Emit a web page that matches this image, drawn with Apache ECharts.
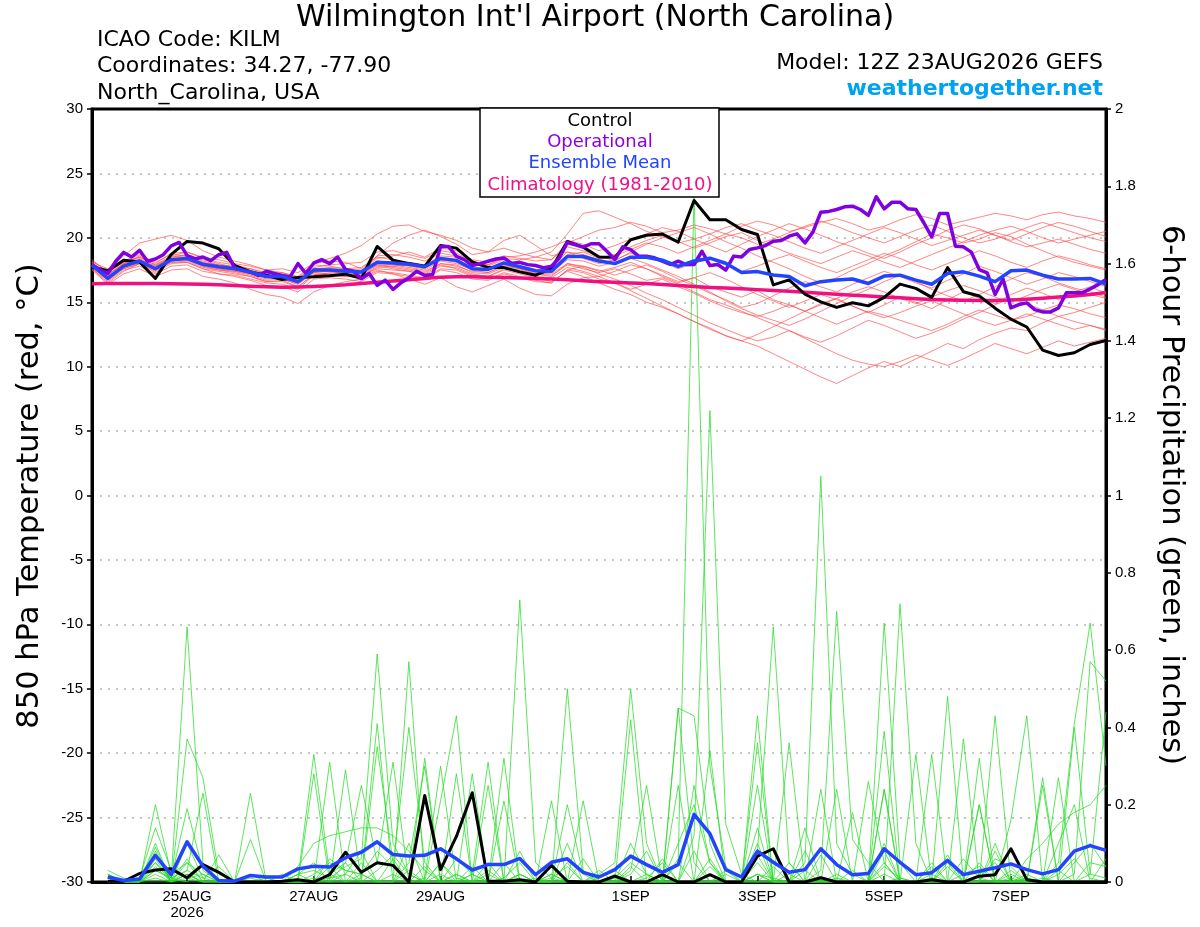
<!DOCTYPE html>
<html>
<head>
<meta charset="utf-8">
<script src="https://cdn.jsdelivr.net/npm/echarts@6/dist/echarts.min.js"></script>
<style>
html,body{margin:0;padding:0;background:#fff;}
#chart{width:1200px;height:927px;}
</style>
</head>
<body>
<div id="chart"></div>
<script>
// ---------- DATA ----------
// x positions: hours after 12Z 23AUG2026
const tickHours  = [36, 84, 132, 204, 252, 300, 348];
const tickLabels = ['25AUG\n2026', '27AUG', '29AUG', '1SEP', '3SEP', '5SEP', '7SEP'];

// 850 hPa temperature, 6-hourly (65 values, 0h..384h)
const controlTemp = [17.74,17.44,18.26,18.13,16.85,18.72,19.72,19.59,19.15,17.87,17.36,17.1,16.77,16.92,16.97,17.05,17.18,
  16.85,19.33,18.26,18.0,17.79,19.41,19.2,18.13,17.69,17.69,17.36,17.1,17.62,19.72,19.28,18.51,
  18.5,19.85,20.2,20.3,19.67,22.9,21.4,21.4,20.65,20.26,16.35,16.74,15.62,15.03,14.6,14.96,
  14.72,15.38,16.41,16.08,15.38,17.69,15.82,15.49,14.54,13.69,13.08,11.28,10.87,11.08,11.72,12.03];
const meanTemp = [17.87,16.85,17.8,18.2,17.6,18.3,18.4,17.95,17.75,17.6,17.35,17.0,17.0,16.6,17.5,17.5,17.4,
  17.35,18.1,18.05,17.95,17.75,18.4,18.25,17.6,17.55,18.05,17.75,17.45,17.4,18.55,18.55,18.2,
  18.0,18.5,18.5,18.26,17.78,18.2,18.42,18.03,17.3,17.38,17.12,17.0,16.28,16.6,16.72,16.8,
  16.46,17.03,17.1,16.72,16.4,17.23,17.36,17.03,16.6,17.44,17.5,17.1,16.8,16.8,16.85,16.4];
const climTemp = [16.44,16.45,16.46,16.46,16.45,16.44,16.42,16.39,16.35,16.30,16.25,16.20,16.16,16.18,16.22,16.28,16.35,
  16.45,16.55,16.65,16.75,16.85,16.95,16.97,16.97,16.95,16.92,16.88,16.85,16.80,16.74,16.67,16.60,
  16.55,16.50,16.45,16.38,16.30,16.22,16.15,16.10,16.04,15.98,15.92,15.85,15.78,15.70,15.62,15.55,
  15.48,15.41,15.34,15.27,15.22,15.18,15.15,15.13,15.14,15.18,15.24,15.31,15.40,15.49,15.60,15.75];

// operational run, 3-hourly (129 values, 0h..384h)
const operational3h = [17.92,17.54,17.23,18.18,18.87,18.51,19.03,18.18,18.36,18.69,19.38,19.64,18.62,18.36,18.51,18.23,18.69,18.87,17.67,17.49,17.33,17.08,17.41,17.23,17.08,16.97,18.0,17.23,18.05,18.31,18.0,18.51,17.54,
  17.41,16.82,17.23,16.31,16.72,16.0,16.51,16.9,17.41,17.08,17.15,19.33,19.33,18.56,18.31,17.85,18.0,18.18,18.36,18.44,18.0,18.1,17.92,17.85,17.67,17.79,18.44,19.64,19.46,19.28,19.54,19.54,
  18.96,18.32,19.3,19.09,18.58,18.58,18.45,18.19,17.93,18.19,17.93,17.93,18.96,17.85,17.93,17.49,18.58,18.52,19.09,19.22,19.4,19.74,19.79,20.13,20.31,19.61,20.44,21.99,22.05,22.2,22.41,22.46,
  22.2,21.74,23.19,22.25,22.77,22.77,22.25,22.2,21.17,20.08,21.89,21.89,19.35,19.3,18.89,17.54,17.28,15.6,16.81,14.56,14.82,14.95,14.43,14.25,14.25,14.56,15.73,15.73,15.73,16.04,16.37,16.76];

// ensemble member temperatures (6-hourly, 65 values)
const tMem01 = [17.8,17.2,18.0,18.6,18.0,18.8,18.9,18.4,18.1,17.9,17.6,17.2,17.3,16.9,17.9,17.8,17.6, 17.5,18.4,18.6,18.9,18.5,19.2,19.0,18.3,18.1,18.6,18.4,18.2,18.3,19.6,20.1,20.6, 20.8,21.2,20.9,20.4,20.6,21.0,20.7,20.3,20.9,21.3,21.0,20.5,20.8,21.2,21.5,21.1, 20.6,20.9,21.4,21.8,21.5,21.0,21.3,21.6,21.9,21.7,21.4,21.8,22.0,21.7,21.5,21.2];
const tMem02 = [18.1,17.0,17.6,18.0,17.3,18.0,18.1,17.6,17.2,17.1,16.8,16.5,16.4,16.0,17.1,17.2,17.0, 17.0,17.8,17.6,17.4,17.2,17.9,17.6,17.1,17.0,17.5,17.2,16.9,16.6,17.4,17.0,16.5, 16.0,15.6,15.0,14.6,14.1,13.5,13.0,12.4,12.0,11.6,11.0,10.4,9.8,9.2,8.7,9.3, 9.9,10.4,10.0,10.6,11.2,11.8,11.4,12.1,12.6,13.0,12.8,13.4,13.9,14.2,14.6,15.0];
const tMem03 = [17.6,16.5,17.4,18.0,17.5,18.1,18.2,17.7,17.5,17.3,17.0,16.6,16.7,16.2,17.2,17.1,17.0, 16.9,17.5,17.2,16.8,16.4,16.9,16.2,15.8,16.3,16.8,16.1,15.6,15.5,16.4,16.9,17.0, 17.4,17.9,17.6,17.0,16.5,16.9,16.2,15.8,15.4,15.9,15.2,14.8,14.3,14.9,15.3,14.7, 14.2,14.8,15.4,15.0,14.5,15.2,15.8,15.3,14.9,15.6,16.1,15.7,15.2,15.8,16.2,15.7];
const tMem04 = [18.2,17.4,18.1,18.5,17.9,18.6,18.9,18.5,18.3,18.0,17.8,17.5,17.3,17.0,18.0,18.4,18.8, 19.4,20.3,20.9,21.0,20.5,20.2,19.8,19.2,18.9,19.2,18.8,18.5,18.3,19.3,19.0,18.6, 18.2,18.9,19.5,20.0,20.4,20.8,20.3,19.7,19.2,18.6,18.1,17.6,17.0,16.5,16.9,17.5, 18.0,18.6,19.1,19.7,20.3,20.0,19.6,19.9,20.4,20.1,19.5,19.0,18.5,18.1,17.8,17.5];
const tMem05 = [17.5,16.4,17.2,17.6,17.0,17.5,17.6,17.0,16.8,16.5,16.0,15.6,15.4,14.9,15.8,16.3,16.6, 16.8,17.4,17.3,17.1,16.9,17.6,17.5,17.0,16.8,17.3,17.0,16.7,16.5,17.5,17.8,17.5, 17.1,17.5,17.9,17.4,16.8,16.3,15.7,15.2,14.6,14.9,15.5,16.1,16.6,16.2,15.8,16.4, 16.9,17.4,17.0,16.5,16.1,16.7,17.2,17.8,17.4,16.9,16.4,16.8,17.3,17.0,16.6,16.2];
const tMem06 = [18.3,17.3,18.2,18.7,18.1,18.7,18.6,18.1,17.9,17.8,17.5,17.1,17.2,16.9,17.6,17.7,17.6, 17.7,18.5,18.3,18.1,17.9,18.6,18.5,18.0,17.9,18.4,18.3,18.5,18.9,20.3,21.9,22.1, 21.6,21.1,20.5,20.1,19.6,19.9,20.3,20.8,21.1,20.6,20.2,19.7,19.2,18.8,19.3,19.8, 20.3,20.8,20.4,19.9,19.4,19.8,20.2,20.6,20.2,19.7,19.3,19.6,19.9,19.5,19.1,18.8];
const tMem07 = [17.9,17.1,18.0,18.3,17.7,18.4,18.5,18.0,17.8,17.6,17.3,17.0,17.1,16.7,17.4,17.5,17.3, 17.3,18.0,17.9,17.7,17.5,18.2,18.0,17.5,17.3,17.9,17.6,17.3,17.2,18.0,17.7,17.2, 16.8,16.3,15.7,15.2,14.6,14.0,13.4,12.9,12.4,12.0,12.3,12.8,12.3,11.9,12.4,13.0, 13.6,13.2,12.7,12.2,12.6,13.1,13.7,14.2,14.8,15.3,14.9,14.4,13.9,13.5,13.2,12.9];
const tMem08 = [17.7,16.8,17.7,18.1,17.5,18.2,18.3,17.8,17.6,17.4,17.2,16.9,16.8,16.4,17.3,17.2,17.1, 17.0,17.7,17.8,17.9,17.7,18.3,18.1,17.6,17.5,18.0,17.7,17.5,17.6,18.7,18.9,18.4, 18.7,19.3,19.8,20.2,19.7,19.2,19.6,20.1,20.4,19.8,19.3,18.8,18.4,18.0,18.5,19.0, 18.6,18.1,17.7,18.2,18.7,19.2,19.7,20.2,20.6,20.9,20.5,20.0,19.6,19.9,20.2,20.5];
const tMem09 = [18.0,17.0,17.9,18.3,17.8,18.4,18.3,17.9,17.7,17.5,17.3,17.0,16.9,16.5,17.5,17.6,17.5, 17.4,18.2,18.0,17.8,17.6,18.4,18.2,17.6,17.5,18.0,17.8,17.4,17.3,18.3,18.2,17.8, 18.1,18.4,18.0,17.5,17.0,16.4,15.8,15.1,14.5,14.0,13.6,13.2,13.7,14.3,14.9,15.5, 16.0,16.6,17.1,16.6,16.0,15.5,15.1,15.6,16.2,16.8,17.3,17.0,16.5,16.1,15.8,15.4];
const tMem10 = [17.8,16.9,17.8,18.2,17.6,18.2,18.4,17.9,17.6,17.5,17.2,16.8,16.9,16.5,17.3,17.4,17.3, 17.2,17.9,17.8,17.6,17.4,18.0,17.8,17.4,17.3,17.8,17.6,17.2,17.1,17.9,17.6,17.3, 17.6,17.2,16.7,16.9,16.4,15.8,15.2,14.8,14.3,13.8,13.3,12.8,12.2,11.6,11.0,10.5, 10.2,10.0,10.4,10.9,10.5,10.1,10.6,11.2,11.8,11.4,11.0,11.5,12.0,11.6,11.9,12.2];
const tMem11 = [17.9,17.1,18.0,18.4,17.8,18.5,18.7,18.3,18.0,17.7,17.6,17.3,17.1,16.8,17.7,17.9,18.0, 18.1,18.9,19.0,18.7,18.4,19.0,18.8,18.2,17.9,18.5,18.6,18.9,19.3,19.8,19.5,19.0, 19.4,19.9,20.3,20.8,20.5,19.9,19.4,18.9,19.5,20.1,20.6,21.1,20.7,20.2,19.7,19.3, 18.8,18.4,18.9,19.5,20.0,20.6,21.0,20.7,20.2,19.8,20.3,20.8,21.2,20.9,20.5,20.1];
const tMem12 = [17.6,16.6,17.5,17.8,17.2,17.8,17.9,17.4,17.2,17.0,16.7,16.3,16.2,15.8,16.8,16.9,16.8, 16.6,17.3,17.2,17.0,16.8,17.5,17.3,16.8,16.7,17.2,16.9,16.6,16.5,17.5,17.3,16.8, 16.5,16.0,16.4,16.8,16.2,15.7,15.1,14.6,14.2,13.9,14.3,14.8,14.3,13.8,13.3,13.8, 14.3,14.0,13.6,13.2,12.8,13.3,13.9,14.4,14.0,13.6,13.9,14.4,14.8,14.5,14.1,13.8];
const tMem13 = [18.0,17.3,18.1,18.5,17.9,18.5,18.6,18.2,17.9,17.7,17.4,17.1,17.0,16.6,17.6,17.6,17.5, 17.4,18.6,19.6,20.2,20.6,20.1,19.5,18.7,18.9,19.8,20.2,19.4,18.6,18.9,18.4,18.0, 18.3,18.8,18.5,18.1,17.6,18.0,18.4,17.9,17.4,17.8,18.3,18.7,18.2,17.7,17.3,17.8, 18.3,18.8,18.4,17.9,17.5,18.0,18.5,19.0,18.6,18.1,17.7,18.2,18.6,18.3,17.9,17.6];
const tMem14 = [17.7,16.7,17.6,18.0,17.4,18.1,18.1,17.6,17.4,17.2,17.0,16.6,16.6,16.2,17.1,17.3,17.2, 17.1,17.6,17.5,17.4,17.1,17.8,17.7,17.2,17.0,17.6,17.4,17.0,16.9,17.7,17.4,17.0, 16.5,15.9,15.3,14.7,14.1,13.5,12.9,12.4,12.0,12.5,13.1,13.7,14.3,14.8,15.3,15.8, 16.2,15.8,15.3,14.9,15.4,15.9,16.3,15.9,15.4,15.0,15.5,16.0,16.4,16.0,15.6,15.3];
const tMem15 = [18.1,17.6,18.6,19.6,19.9,20.2,19.8,19.0,18.5,18.2,17.9,17.5,17.6,17.3,18.0,18.2,18.1, 17.6,18.6,18.7,18.5,18.2,18.8,18.6,18.0,17.8,18.3,18.0,17.8,17.8,18.9,18.7,18.3, 18.6,19.1,19.6,19.3,18.8,19.3,19.8,20.3,20.0,19.5,19.9,20.4,20.9,21.3,20.9,20.4, 20.0,19.6,20.1,20.6,21.0,20.5,20.0,19.6,19.9,20.3,20.8,21.2,20.8,20.4,20.0,19.7];
const tMem16 = [17.8,17.0,17.9,18.2,17.6,18.3,18.3,17.8,17.5,17.4,17.1,16.7,16.8,16.4,17.4,17.4,17.2, 17.1,17.9,17.7,17.5,17.3,18.0,17.9,17.3,17.2,17.7,17.5,17.2,17.0,18.0,17.8,17.4, 17.7,18.1,17.6,17.1,16.6,16.9,17.3,16.8,16.2,15.6,15.1,14.6,15.1,15.6,15.2,14.7, 14.2,13.8,14.2,14.7,15.1,14.6,14.1,13.6,13.2,13.6,14.1,13.7,13.3,12.9,13.2,12.8];

// 6-hour precipitation (inches), 64 values, 6h..384h
const controlPrecip = [0.002,0.002,0.022,0.031,0.034,0.011,0.045,0.025,0,0,0,0.002,0.006,0,0.019,0.077,
  0.025,0.05,0.043,0,0.224,0.032,0.118,0.231,0.002,0.002,0.006,0,0.043,0.002,0,0,
  0.015,0,0,0.019,0,0,0.019,0,0,0.067,0.086,0,0,0.011,0,0,
  0,0,0,0,0.006,0,0,0.015,0.019,0.086,0.006,0,0,0,0,0];
const meanPrecip = [0.013,0.004,0.008,0.069,0.019,0.104,0.041,0.004,0.002,0.017,0.013,0.013,0.034,0.041,0.039,0.063,
  0.077,0.104,0.071,0.067,0.069,0.086,0.060,0.031,0.045,0.045,0.061,0.019,0.051,0.060,0.025,0.013,
  0.032,0.067,0.045,0.025,0.045,0.175,0.125,0.032,0.013,0.080,0.051,0.025,0.032,0.086,0.045,0.019,
  0.022,0.086,0.051,0.019,0.024,0.056,0.019,0.028,0.037,0.047,0.032,0.021,0.032,0.080,0.094,0.082];

const pMem01 = [0.02,0.00,0.01,0.05,0.01,0.19,0.03,0.00,0.00,0.01,0.00,0.00,0.02,0.03,0.01,0.04, 0.06,0.59,0.10,0.02,0.00,0.05,0.01,0.00,0.03,0.00,0.02,0.00,0.01,0.04,0.00,0.00, 0.01,0.05,0.02,0.00,0.06,1.78,0.30,0.04,0.00,0.02,0.01,0.00,0.03,0.00,0.01,0.00, 0.00,0.04,0.01,0.00,0.02,0.00,0.06,0.01,0.00,0.03,0.00,0.01,0.00,0.05,0.10,0.04];
const pMem02 = [0.01,0.00,0.00,0.10,0.00,0.37,0.27,0.02,0.00,0.00,0.01,0.00,0.00,0.02,0.05,0.03, 0.02,0.08,0.04,0.40,0.05,0.00,0.02,0.00,0.00,0.01,0.05,0.00,0.00,0.20,0.02,0.00, 0.00,0.02,0.08,0.00,0.00,0.12,1.22,0.15,0.02,0.00,0.04,0.00,0.00,0.01,0.00,0.03, 0.00,0.08,0.00,0.00,0.01,0.00,0.00,0.02,0.05,0.00,0.01,0.00,0.02,0.06,0.01,0.00];
const pMem03 = [0.00,0.00,0.02,0.07,0.01,0.66,0.05,0.00,0.00,0.00,0.00,0.00,0.00,0.01,0.00,0.05, 0.25,0.05,0.31,0.00,0.01,0.30,0.00,0.02,0.00,0.00,0.73,0.05,0.01,0.00,0.00,0.01, 0.03,0.00,0.01,0.05,0.00,0.00,0.00,0.03,0.00,0.05,0.00,0.00,0.05,1.05,0.10,0.02, 0.00,0.00,0.01,0.00,0.00,0.04,0.00,0.00,0.00,0.01,0.00,0.00,0.03,0.00,0.02,0.01];
const pMem04 = [0.03,0.01,0.00,0.20,0.02,0.05,0.00,0.07,0.00,0.00,0.00,0.00,0.01,0.33,0.02,0.00, 0.01,0.41,0.00,0.05,0.30,0.00,0.00,0.02,0.31,0.00,0.00,0.01,0.00,0.50,0.03,0.00, 0.00,0.10,0.02,0.00,0.00,0.25,0.05,0.00,0.00,0.08,0.66,0.05,0.00,0.00,0.02,0.00, 0.00,0.24,0.00,0.00,0.05,0.00,0.00,0.00,0.10,0.00,0.00,0.00,0.05,0.41,0.67,0.30];
const pMem05 = [0.00,0.00,0.01,0.14,0.03,0.01,0.02,0.00,0.00,0.23,0.00,0.00,0.00,0.00,0.01,0.02, 0.00,0.35,0.05,0.00,0.00,0.21,0.43,0.00,0.00,0.05,0.00,0.00,0.21,0.00,0.00,0.02, 0.05,0.50,0.10,0.00,0.45,0.05,0.00,0.00,0.00,0.02,0.00,0.00,0.00,0.03,0.70,0.11, 0.05,0.00,0.72,0.10,0.00,0.00,0.00,0.05,0.00,0.00,0.01,0.00,0.00,0.02,0.57,0.52];
const pMem06 = [0.02,0.00,0.00,0.06,0.00,0.02,0.00,0.00,0.00,0.11,0.00,0.00,0.00,0.28,0.00,0.00, 0.00,0.00,0.00,0.57,0.00,0.00,0.00,0.00,0.25,0.00,0.02,0.00,0.00,0.00,0.00,0.00, 0.00,0.42,0.00,0.00,0.00,0.00,0.34,0.00,0.00,0.43,0.00,0.00,0.00,0.00,0.00,0.00, 0.00,0.67,0.05,0.00,0.00,0.48,0.00,0.00,0.43,0.00,0.00,0.00,0.00,0.40,0.02,0.44];
const pMem07 = [0.01,0.00,0.00,0.03,0.01,0.03,0.01,0.00,0.00,0.00,0.00,0.00,0.04,0.10,0.12,0.13, 0.14,0.14,0.12,0.08,0.03,0.00,0.00,0.28,0.00,0.32,0.00,0.00,0.00,0.00,0.00,0.00, 0.00,0.03,0.25,0.00,0.45,0.43,0.10,0.00,0.00,0.36,0.00,0.36,0.00,0.00,0.00,0.00, 0.26,0.05,0.00,0.00,0.33,0.00,0.37,0.00,0.00,0.16,0.43,0.00,0.00,0.00,0.00,0.00];
const pMem08 = [0.00,0.00,0.00,0.09,0.00,0.10,0.01,0.04,0.00,0.00,0.00,0.00,0.00,0.00,0.31,0.00, 0.00,0.00,0.00,0.00,0.32,0.00,0.00,0.00,0.00,0.21,0.00,0.00,0.00,0.00,0.21,0.00, 0.00,0.00,0.00,0.00,0.00,0.00,0.00,0.00,0.00,0.25,0.00,0.00,0.14,0.00,0.24,0.00, 0.00,0.39,0.00,0.00,0.00,0.00,0.00,0.32,0.00,0.00,0.00,0.25,0.00,0.00,0.00,0.00];
const pMem09 = [0.01,0.00,0.00,0.05,0.00,0.05,0.02,0.00,0.00,0.00,0.00,0.00,0.00,0.00,0.00,0.29, 0.00,0.00,0.00,0.00,0.00,0.00,0.28,0.00,0.00,0.00,0.00,0.00,0.00,0.00,0.00,0.00, 0.00,0.00,0.00,0.00,0.00,0.00,0.00,0.00,0.00,0.00,0.00,0.00,0.00,0.00,0.00,0.18, 0.00,0.00,0.00,0.33,0.00,0.00,0.00,0.20,0.00,0.00,0.00,0.27,0.00,0.00,0.00,0.00];
const pMem10 = [0.00,0.00,0.00,0.04,0.00,0.03,0.23,0.00,0.00,0.00,0.00,0.00,0.02,0.05,0.00,0.00, 0.02,0.00,0.06,0.00,0.00,0.00,0.02,0.00,0.00,0.00,0.08,0.00,0.00,0.10,0.00,0.00, 0.02,0.00,0.00,0.00,0.25,0.00,0.00,0.00,0.00,0.14,0.00,0.00,0.00,0.24,0.00,0.00, 0.00,0.24,0.00,0.00,0.00,0.00,0.00,0.20,0.00,0.00,0.00,0.00,0.27,0.00,0.00,0.00];
const pMem11 = [0.02,0.00,0.00,0.08,0.00,0.02,0.00,0.00,0.00,0.00,0.00,0.00,0.02,0.00,0.02,0.05, 0.00,0.03,0.07,0.02,0.00,0.05,0.00,0.00,0.02,0.00,0.00,0.00,0.00,0.05,0.00,0.00, 0.00,0.04,0.00,0.00,0.00,0.00,0.06,0.00,0.00,0.10,0.00,0.02,0.00,0.07,0.00,0.00, 0.00,0.05,0.00,0.00,0.00,0.07,0.00,0.00,0.00,0.02,0.00,0.00,0.00,0.00,0.05,0.04];
const pMem12 = [0.00,0.00,0.01,0.07,0.00,0.01,0.00,0.00,0.00,0.02,0.00,0.00,0.00,0.00,0.04,0.00, 0.05,0.00,0.00,0.10,0.00,0.00,0.06,0.02,0.00,0.00,0.00,0.00,0.02,0.00,0.00,0.00, 0.00,0.00,0.02,0.00,0.05,0.00,0.00,0.00,0.00,0.07,0.00,0.05,0.00,0.00,0.00,0.00, 0.00,0.00,0.00,0.00,0.04,0.00,0.00,0.00,0.08,0.00,0.00,0.00,0.10,0.20,0.00,0.00];
const pMem13 = [0.01,0.00,0.00,0.02,0.00,0.06,0.00,0.00,0.00,0.00,0.00,0.02,0.00,0.00,0.00,0.00, 0.00,0.00,0.02,0.00,0.04,0.00,0.00,0.00,0.00,0.00,0.02,0.00,0.00,0.00,0.00,0.00, 0.00,0.00,0.00,0.00,0.00,0.08,0.00,0.02,0.00,0.00,0.00,0.00,0.00,0.00,0.00,0.00, 0.00,0.00,0.00,0.00,0.00,0.00,0.02,0.04,0.00,0.00,0.06,0.10,0.15,0.18,0.20,0.25];
const pMem14 = [0.00,0.00,0.00,0.03,0.01,0.00,0.05,0.00,0.00,0.00,0.00,0.00,0.00,0.00,0.00,0.02, 0.08,0.00,0.00,0.00,0.00,0.00,0.00,0.00,0.05,0.00,0.00,0.00,0.02,0.00,0.00,0.00, 0.00,0.00,0.00,0.00,0.10,0.20,0.05,0.00,0.00,0.02,0.00,0.00,0.08,0.00,0.00,0.00, 0.00,0.10,0.00,0.00,0.00,0.00,0.00,0.00,0.06,0.04,0.00,0.00,0.00,0.00,0.00,0.06];
const pMem15 = [0.00,0.00,0.00,0.01,0.00,0.02,0.00,0.00,0.00,0.00,0.00,0.00,0.00,0.00,0.00,0.00, 0.00,0.00,0.00,0.00,0.00,0.00,0.00,0.04,0.00,0.00,0.00,0.00,0.00,0.00,0.06,0.00, 0.00,0.00,0.00,0.06,0.00,0.00,0.00,0.00,0.00,0.00,0.00,0.00,0.00,0.00,0.00,0.00, 0.00,0.02,0.00,0.00,0.00,0.00,0.00,0.00,0.00,0.00,0.00,0.00,0.00,0.00,0.00,0.00];
const pMem16 = [0.01,0.00,0.00,0.00,0.00,0.00,0.00,0.00,0.00,0.00,0.00,0.00,0.00,0.00,0.06,0.03, 0.02,0.00,0.00,0.03,0.00,0.02,0.00,0.00,0.00,0.00,0.00,0.00,0.00,0.00,0.00,0.03, 0.00,0.00,0.00,0.00,0.00,0.00,0.04,0.00,0.00,0.00,0.00,0.00,0.00,0.00,0.00,0.00, 0.00,0.00,0.00,0.00,0.00,0.05,0.00,0.00,0.00,0.00,0.02,0.00,0.00,0.00,0.00,0.00];

// ---------- BUILD ----------
const FONT = '"Liberation Sans", Arial, Helvetica, sans-serif';
const HFONT = '"DejaVu Sans", Verdana, sans-serif';
const tempMembers = [tMem01,tMem02,tMem03,tMem04,tMem05,tMem06,tMem07,tMem08,tMem09,tMem10,tMem11,tMem12,tMem13,tMem14,tMem15,tMem16];
const precipMembers = [pMem01,pMem02,pMem03,pMem04,pMem05,pMem06,pMem07,pMem08,pMem09,pMem10,pMem11,pMem12,pMem13,pMem14,pMem15,pMem16];

const at6 = arr => arr.map((v, i) => [i * 6, v]);
const at6p = arr => arr.map((v, i) => [(i + 1) * 6, v]);
const at3 = arr => arr.map((v, i) => [i * 3, v]);

function line(name, data, color, width, yIdx, z, opacity) {
  return {
    name, type: 'line', data, yAxisIndex: yIdx, z: z,
    showSymbol: false, symbol: 'none', silent: true, animation: false,
    lineStyle: { color, width, opacity: opacity == null ? 1 : opacity, join: 'round' }
  };
}

const series = [];
tempMembers.forEach((m, i) => series.push(line('T' + i, at6(m), '#ff4a4a', 0.8, 0, 2, 0.85)));
precipMembers.forEach((m, i) => series.push(line('P' + i, at6p(m), '#28dd28', 0.8, 1, 3, 0.95)));
series.push(line('Climatology', at6(climTemp), '#f0107f', 3.5, 0, 4));
series.push(line('Control precip', at6p(controlPrecip), '#000000', 3, 1, 5));
series.push(line('Mean precip', at6p(meanPrecip), '#2244ff', 3.5, 1, 6));
series.push(line('Control', at6(controlTemp), '#000000', 3, 0, 7));
series.push(line('Operational', at3(operational3h), '#8000e0', 3.5, 0, 8));
series.push(line('Ensemble Mean', at6(meanTemp), '#2244ff', 3.5, 0, 9));

const labelMap = {};
tickHours.forEach((h, i) => labelMap[h] = tickLabels[i]);

function txt(text, x, y, size, align, color, weight, rotation) {
  return {
    type: 'text', x, y, rotation: rotation || 0, z: 200,
    style: {
      text, fill: color || '#000', font: (weight || 'normal') + ' ' + size + 'px ' + HFONT,
      align: align, verticalAlign: 'middle', textAlign: align, textVerticalAlign: 'middle'
    }
  };
}

const option = {
  animation: false,
  backgroundColor: '#ffffff',
  textStyle: { fontFamily: FONT },
  grid: { left: 92, right: 94, top: 109, bottom: 45, show: true, borderColor: '#000', borderWidth: 3, backgroundColor: 'rgba(0,0,0,0)', containLabel: false },
  xAxis: {
    type: 'value', min: 0, max: 384, interval: 12,
    axisLine: { show: true, onZero: false, lineStyle: { color: '#000', width: 3 } },
    splitLine: { show: false },
    axisTick: { show: true, inside: true, length: 6, customValues: tickHours, lineStyle: { color: '#000', width: 1.5 } },
    axisLabel: {
      customValues: tickHours, color: '#000', fontSize: 15, fontFamily: FONT, margin: 7, lineHeight: 16,
      formatter: v => labelMap[v] || ''
    }
  },
  yAxis: [
    {
      type: 'value', min: -30, max: 30, interval: 5, position: 'left',
      axisLine: { show: true, lineStyle: { color: '#000', width: 3 } },
      axisTick: { show: true, length: 5, lineStyle: { color: '#000', width: 1.5 } },
      axisLabel: { color: '#000', fontSize: 15, fontFamily: FONT, margin: 9 },
      splitLine: { show: true, showMinLine: false, showMaxLine: false, lineStyle: { color: '#b4b4b4', type: [2, 6], width: 1.5 } }
    },
    {
      type: 'value', min: 0, max: 2, interval: 0.2, position: 'right',
      axisLine: { show: true, lineStyle: { color: '#000', width: 3 } },
      axisTick: { show: true, length: 5, lineStyle: { color: '#000', width: 1.5 } },
      axisLabel: { color: '#000', fontSize: 15, fontFamily: FONT, margin: 9, formatter: v => String(+(+v).toFixed(1)) },
      splitLine: { show: false }
    }
  ],
  graphic: [
    txt("Wilmington Int'l Airport (North Carolina)", 595, 18, 30, 'center'),
    txt('ICAO Code: KILM', 97, 40, 22, 'left'),
    txt('Coordinates: 34.27, -77.90', 97, 66, 22, 'left'),
    txt('North_Carolina, USA', 97, 93, 22, 'left'),
    txt('Model: 12Z 23AUG2026 GEFS', 1103, 63, 22, 'right'),
    txt('weathertogether.net', 1103, 89, 22, 'right', '#00a2f2', 'bold'),
    { type: 'rect', z: 150, shape: { x: 480, y: 108, width: 239, height: 89 }, style: { fill: '#fff', stroke: '#000', lineWidth: 1.5 } },
    txt('Control', 600, 121, 18, 'center', '#000'),
    txt('Operational', 600, 142, 18, 'center', '#8a00e6'),
    txt('Ensemble Mean', 600, 163, 18, 'center', '#2244ff'),
    txt('Climatology (1981-2010)', 600, 185, 18, 'center', '#ee1188'),
    txt('850 hPa Temperature (red, °C)', 30, 496, 30.5, 'center', '#000', 'normal', Math.PI / 2),
    txt('6-hour Precipitation (green, inches)', 1171, 495, 30.5, 'center', '#000', 'normal', -Math.PI / 2)
  ],
  series
};

const chart = echarts.init(document.getElementById('chart'), null, { renderer: 'canvas' });
chart.setOption(option);
</script>
</body>
</html>
